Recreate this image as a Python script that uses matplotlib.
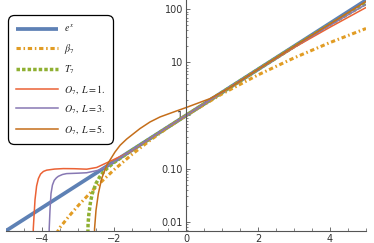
import matplotlib
matplotlib.use("Agg")
import matplotlib.pyplot as plt
from matplotlib.ticker import FixedLocator, FixedFormatter, MultipleLocator

# ---- data ----
x_exp = [-5, -4, -3, -2, -1, 0, 1, 2, 3, 4, 5]
y_exp = [0.00674, 0.0183, 0.0498, 0.1353, 0.3679, 1.0, 2.718, 7.389, 20.09, 54.60, 148.4]

x_beta = [-3.6, -3.5, -3.25, -3.0, -2.5, -2.0, -1.5, -1.0, -0.5, 0.0, 1.0, 2.0, 3.0, 4.0, 5.0]
y_beta = [0.0060, 0.0078, 0.0127, 0.0199, 0.0454, 0.0949, 0.185, 0.340, 0.595, 1.0, 2.547, 5.81, 12.14, 23.66, 43.49]

x_taylor = [-2.76, -2.72, -2.7, -2.65, -2.6, -2.5, -2.4, -2.3, -2.2, -2.0, -1.5, -1.0, 0.0, 1.0, 2.0, 3.0, 4.0, 5.0]
y_taylor = [0.0005, 0.0092, 0.0136, 0.0243, 0.0343, 0.0526, 0.0693, 0.0849, 0.0999, 0.1302, 0.2226, 0.3679, 1.0, 2.718, 7.381, 19.85, 51.81, 128.6]

x_o1 = [-4.26, -4.242, -4.194, -4.15, -4.10, -4.04, -3.96, -3.869, -3.65, -3.408, -3.1, -2.758, -2.481, -2.203, -1.556, -1.0, 0.0, 1.0, 2.0, 3.0, 4.0, 5.0]
y_o1 = [0.001, 0.0074, 0.0260, 0.0470, 0.0650, 0.0790, 0.0885, 0.0935, 0.0980, 0.1000, 0.0995, 0.0975, 0.105, 0.1285, 0.2055, 0.368, 1.0, 2.72, 7.35, 19.0, 46.0, 108.0]

x_o3 = [-3.81, -3.80, -3.778, -3.75, -3.71, -3.66, -3.60, -3.546, -3.43, -3.315, -3.0, -2.76, -2.435, -2.2, -2.0, -1.0, 0.0, 1.0, 2.0, 3.0, 4.0, 5.0]
y_o3 = [0.001, 0.0074, 0.0164, 0.0338, 0.0490, 0.0600, 0.0670, 0.0716, 0.0775, 0.0805, 0.0820, 0.0835, 0.093, 0.11, 0.135, 0.368, 1.0, 2.72, 7.38, 19.8, 50.0, 124.0]

x_o5 = [-2.55, -2.54, -2.5, -2.435, -2.343, -2.203, -1.972, -1.83, -1.648, -1.28, -1.0, -0.72, -0.35, 0.0, 0.667, 1.22, 2.0, 3.0, 4.0, 5.0]
y_o5 = [0.001, 0.0074, 0.0164, 0.0338, 0.0648, 0.115, 0.2055, 0.275, 0.36, 0.566, 0.755, 0.94, 1.16, 1.41, 2.08, 3.35, 7.4, 20.0, 53.0, 141.0]

labels = [r"$e^x$", r"$\beta_7$", r"$T_7$", r"$O_7,\ L=1.$", r"$O_7,\ L=3.$", r"$O_7,\ L=5.$"]
y_ticks = [0.01, 0.1, 1, 10, 100]
y_ticklabels = ["0.01", "0.10", "1", "10", "100"]
x_ticks = [-4, -2, 0, 2, 4]
x_ticklabels = ["\u22124", "\u22122", "0", "2", "4"]

plt.rcParams['mathtext.fontset'] = 'stix'
plt.rcParams['font.family'] = ['DejaVu Sans']

W, H = 374, 243
fig = plt.figure(figsize=(W/100, H/100), dpi=100)
ax = fig.add_axes([6/W, (H-230.8)/H, 360/W, 230.6/H])
ax.set_yscale('log')
ax.set_xlim(-5, 5)
ax.set_ylim(0.006738, 148.41)

ax.plot(x_exp, y_exp, color='#5E81B5', lw=2.7, solid_capstyle='butt', label=labels[0])
ax.plot(x_beta, y_beta, color='#E19C24', lw=2.2, dashes=(1.4, 0.9, 0.5, 0.9), label=labels[1])
ax.plot(x_taylor, y_taylor, color='#8FB032', lw=2.5, dashes=(1.0, 0.6), label=labels[2])
ax.plot(x_o1, y_o1, color='#EB6235', lw=1.1, label=labels[3])
ax.plot(x_o3, y_o3, color='#8778B3', lw=1.1, label=labels[4])
ax.plot(x_o5, y_o5, color='#C56E1A', lw=1.1, label=labels[5])

axis_col = '#555555'
for s in ('top', 'right'):
    ax.spines[s].set_visible(False)
ax.spines['left'].set_position(('data', 0))
ax.spines['left'].set_color(axis_col)
ax.spines['bottom'].set_color(axis_col)
ax.spines['left'].set_linewidth(0.8)
ax.spines['bottom'].set_linewidth(0.8)

ax.yaxis.set_major_locator(FixedLocator(y_ticks))
ax.yaxis.set_major_formatter(FixedFormatter(y_ticklabels))
ax.xaxis.set_major_locator(FixedLocator(x_ticks))
ax.xaxis.set_major_formatter(FixedFormatter(x_ticklabels))
ax.xaxis.set_minor_locator(MultipleLocator(0.5))
ax.tick_params(axis='both', which='both', direction='in', colors=axis_col, labelcolor='#333333', labelsize=7)
ax.tick_params(axis='y', which='major', length=2.6, width=0.6, pad=2)
ax.tick_params(axis='y', which='minor', length=1.6, width=0.5)
ax.tick_params(axis='x', which='major', length=3.0, width=0.6, pad=2)
ax.tick_params(axis='x', which='minor', length=2.0, width=0.5)

leg = ax.legend(loc='upper left', bbox_to_anchor=(8/W, 1 - 15/H), bbox_transform=fig.transFigure,
                fontsize=7.2, handlelength=4.2, handletextpad=0.6, labelspacing=0.74,
                borderpad=0.78, borderaxespad=0, frameon=True, fancybox=True)
fr = leg.get_frame()
fr.set_edgecolor('black')
fr.set_linewidth(0.9)
fr.set_alpha(1)
fr.set_boxstyle('round', pad=0, rounding_size=0.6)
for t in leg.get_texts():
    t.set_color('#222222')

fig.savefig("out.png", dpi=100)
